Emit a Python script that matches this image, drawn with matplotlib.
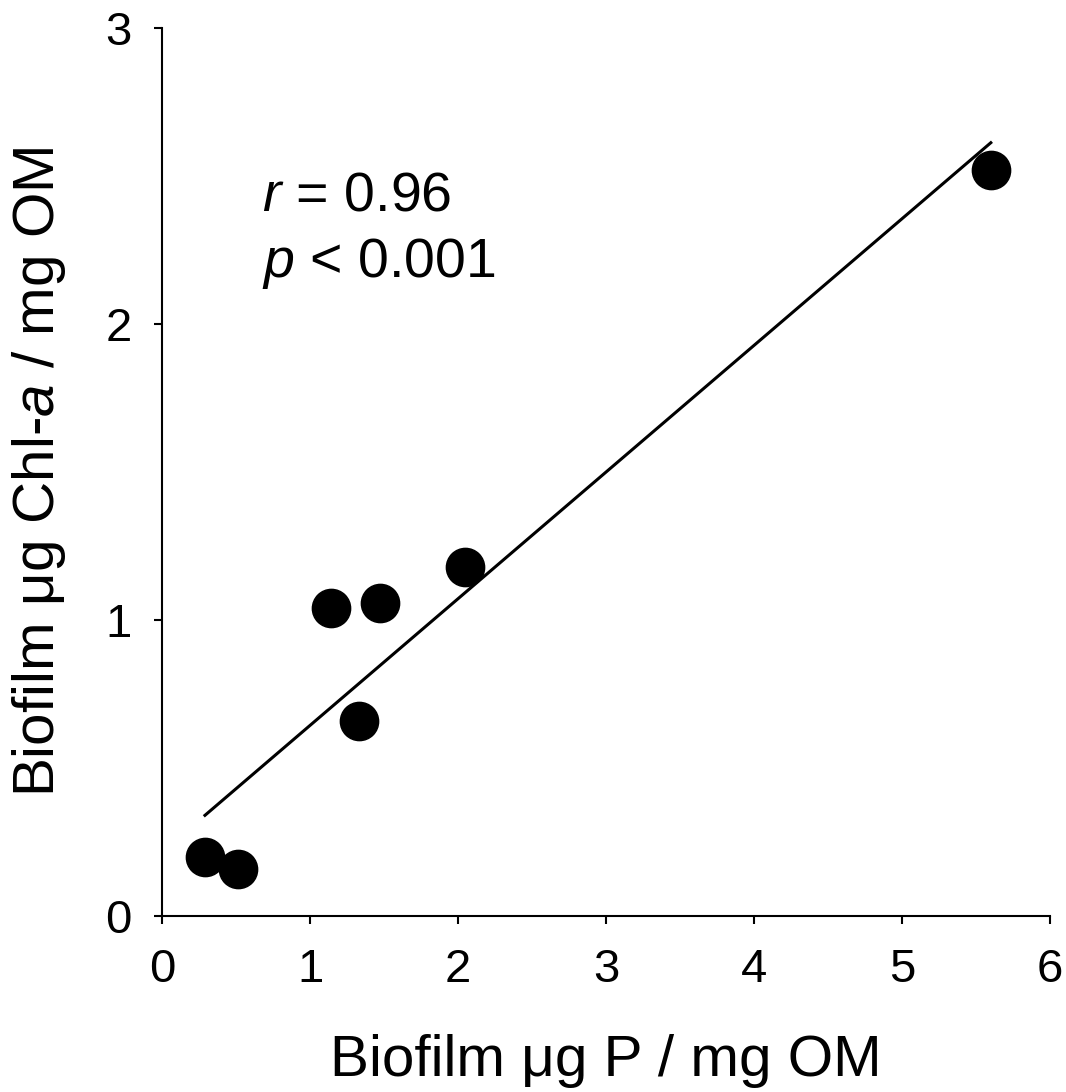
import numpy as np
import matplotlib
matplotlib.use("Agg")
import matplotlib.pyplot as plt

plt.rcParams['font.family'] = ['Liberation Sans', 'DejaVu Sans']
plt.rcParams['mathtext.fontset'] = 'custom'
plt.rcParams['mathtext.rm'] = 'Liberation Sans'
plt.rcParams['mathtext.it'] = 'Liberation Sans:italic'

# DATA #################################################################################
p_om = [0.29, 0.51, 1.14, 1.47, 1.33, 2.05, 5.60]      # biofilm ug P / mg OM
chl_om = [0.20, 0.16, 1.04, 1.06, 0.66, 1.18, 2.52]   # biofilm ug Chl-a / mg OM
x_ticks = [0, 1, 2, 3, 4, 5, 6]
y_ticks = [0, 1, 2, 3]
r_text = r'$r$ = 0.96'
p_text = r'$p$ < 0.001'

# least squares line over the data range
slope, icpt = np.polyfit(p_om, chl_om, 1)
fit_x = np.array([min(p_om), max(p_om)])
fit_y = slope * fit_x + icpt

# FIGURE ###############################################################################
fig = plt.figure(figsize=(10.66, 10.92), dpi=100)
ax = fig.add_axes([0.152, 0.161, 0.833, 0.813])

ax.plot(fit_x, fit_y, color='black', linewidth=2.2, zorder=2)
ax.scatter(p_om, chl_om, s=760, color='black', zorder=3)

ax.set_xlim(0, 6)
ax.set_ylim(0, 3)
ax.set_xticks(x_ticks)
ax.set_yticks(y_ticks)
ax.tick_params(labelsize=34, width=1.5, length=6, direction='out')
ax.tick_params(axis='x', pad=17)
ax.tick_params(axis='y', pad=16)
for side in ['top', 'right']:
    ax.spines[side].set_visible(False)
for side in ['left', 'bottom']:
    ax.spines[side].set_linewidth(1.5)

ax.set_xlabel('Biofilm μg P / mg OM', fontsize=42, labelpad=30)
ax.set_ylabel('Biofilm μg Chl-$a$ / mg OM', fontsize=42, labelpad=27)

ax.text(0.1126, 0.795, r_text, transform=ax.transAxes, fontsize=40, va='baseline')
ax.text(0.1126, 0.7196, p_text, transform=ax.transAxes, fontsize=40, va='baseline')

fig.savefig('out.png', dpi=100)
